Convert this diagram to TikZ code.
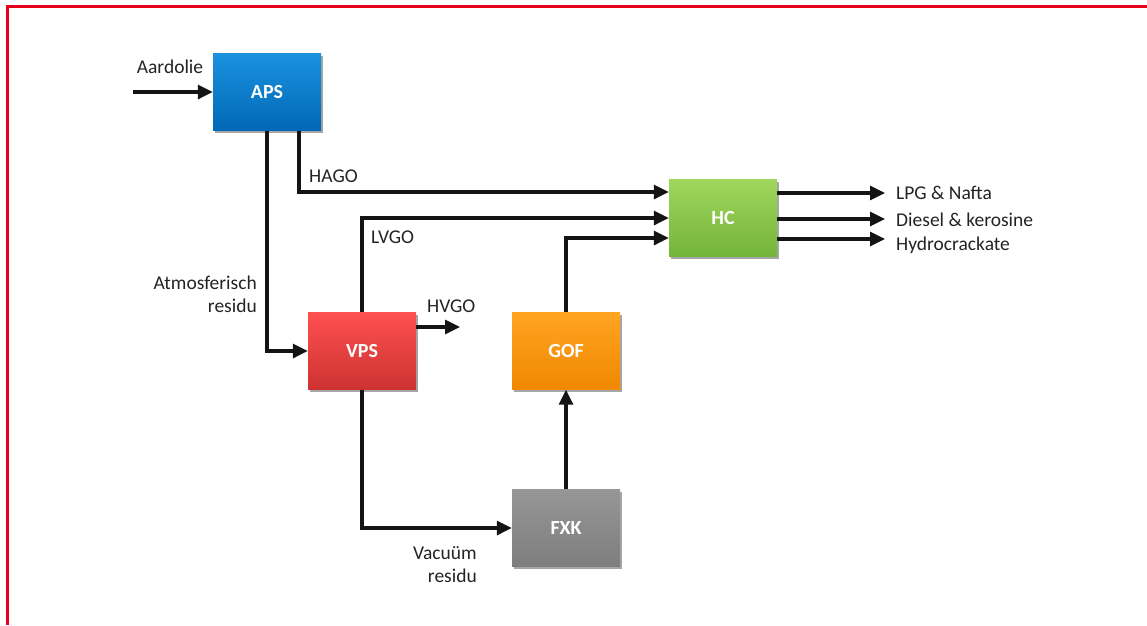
\documentclass[tikz,border=0pt]{standalone}
\usepackage{fontspec}
\setmainfont{Carlito}
\usetikzlibrary{arrows.meta,shadows}
\definecolor{frame}{RGB}{232,0,30}
\definecolor{apsT}{RGB}{26,146,222}\definecolor{apsB}{RGB}{0,104,182}
\definecolor{hcT}{RGB}{160,214,92}\definecolor{hcB}{RGB}{116,180,58}
\definecolor{vpsT}{RGB}{255,80,80}\definecolor{vpsB}{RGB}{204,50,50}
\definecolor{gofT}{RGB}{255,164,34}\definecolor{gofB}{RGB}{240,136,0}
\definecolor{fxkT}{RGB}{150,150,150}\definecolor{fxkB}{RGB}{126,126,126}
\definecolor{txt}{RGB}{35,35,35}
\begin{document}
\begin{tikzpicture}[x=1pt,y=-1pt,
  font=\fontsize{19.5}{23}\selectfont,
  unit/.style={rectangle,minimum width=108pt,minimum height=77pt,inner sep=0pt,
    text=white,font=\fontsize{20}{23}\selectfont\bfseries,
    drop shadow={shadow xshift=2pt,shadow yshift=-2pt,opacity=0.35,fill=black}},
  flow/.style={line width=3.2pt,draw=black!92,-{Triangle[length=15pt,width=14pt]}},
  lbl/.style={text=txt,inner sep=0pt}]
\useasboundingbox (0,0) rectangle (1147,625);
\draw[frame,line width=3pt] (7,625) -- (7,6.5) -- (1147,6.5);

\node[unit,top color=apsT,bottom color=apsB] (APS) at (267,92) {APS};
\node[unit,top color=hcT,bottom color=hcB] (HC) at (723,218) {HC};
\node[unit,top color=vpsT,bottom color=vpsB] (VPS) at (362,351) {VPS};
\node[unit,top color=gofT,bottom color=gofB] (GOF) at (566,351) {GOF};
\node[unit,top color=fxkT,bottom color=fxkB] (FXK) at (566,528) {FXK};

\coordinate (in) at (133,92);
\draw[flow] (in) -- (APS.west);
\node[lbl] (aard) at (170,67) {Aardolie};

\draw[flow] ([xshift=32pt]APS.south) |- ([yshift=26pt]HC.west);
\node[lbl,anchor=west] (hago) at (309,176) {HAGO};

\draw[flow] (APS.south) |- (VPS.west);
\node[lbl,anchor=east,align=right] (atm) at (257,294) {Atmosferisch\\residu};

\draw[flow] (VPS.north) |- (HC.west);
\node[lbl,anchor=west] (lvgo) at (371,237) {LVGO};

\coordinate (hvgoend) at (460,327);
\draw[flow] ([yshift=24pt]VPS.east) -- (hvgoend);
\node[lbl,anchor=west] (hvgo) at (427,306) {HVGO};

\draw[flow] (GOF.north) |- ([yshift=-20pt]HC.west);

\draw[flow] (VPS.south) |- (FXK.west);
\node[lbl,anchor=east,align=right] (vac) at (477,565) {Vacuüm\\residu};

\draw[flow] (FXK.north) -- (GOF.south);

\coordinate (o1) at (885,193);
\coordinate (o2) at (885,219);
\coordinate (o3) at (885,239);
\draw[flow] ([yshift=25pt]HC.east) -- (o1);
\draw[flow] ([yshift=-1pt]HC.east) -- (o2);
\draw[flow] ([yshift=-21pt]HC.east) -- (o3);
\node[lbl,anchor=west] (lpg) at (896,193) {LPG \& Nafta};
\node[lbl,anchor=west] (dsl) at (896,220) {Diesel \& kerosine};
\node[lbl,anchor=west] (hyd) at (896,245) {Hydrocrackate};
\end{tikzpicture}
\end{document}
